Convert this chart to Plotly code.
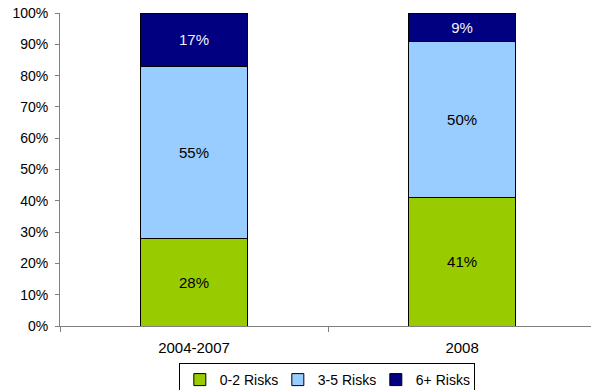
import plotly.graph_objects as go

# Share of people by number of health risks, per period
periods = ["2004-2007", "2008"]
risk_groups = ["0-2 Risks", "3-5 Risks", "6+ Risks"]
low_risk = [28, 41]
mid_risk = [55, 50]
high_risk = [17, 9]
y_ticks = [0, 10, 20, 30, 40, 50, 60, 70, 80, 90, 100]

series = [low_risk, mid_risk, high_risk]
fills = ["#99CC00", "#99CCFF", "#000080"]
label_colors = ["#000000", "#000000", "#F0F0FF"]

FONT = "Liberation Sans, Arial, sans-serif"

fig = go.Figure()
for name, vals, fill, lc in zip(risk_groups, series, fills, label_colors):
    fig.add_trace(go.Bar(
        x=periods,
        y=vals,
        name=name,
        marker=dict(color=fill, line=dict(color="#000000", width=1)),
        text=[f"{v}%" for v in vals],
        textposition="inside",
        insidetextanchor="middle",
        textfont=dict(family=FONT, size=15, color=lc),
        hoverinfo="skip",
    ))

fig.update_layout(
    width=591,
    height=390,
    barmode="stack",
    bargap=0.6,
    margin=dict(l=60, r=0, t=13, b=64, autoexpand=False),
    paper_bgcolor="white",
    plot_bgcolor="white",
    font=dict(family=FONT, size=14, color="#000000"),
    showlegend=True,
    legend=dict(
        orientation="h",
        traceorder="normal",
        xref="container",
        yref="container",
        x=0.553,
        xanchor="center",
        y=1 - 363 / 390,
        yanchor="top",
        bordercolor="#000000",
        borderwidth=1,
        bgcolor="white",
        font=dict(family=FONT, size=14),
        itemwidth=30,
        entrywidth=53,
        entrywidthmode="pixels",
    ),
    xaxis=dict(
        range=[-0.5, 1.481],
        showline=True,
        linecolor="#808080",
        linewidth=1,
        ticks="outside",
        tickson="boundaries",
        ticklen=5,
        tickcolor="#808080",
        ticklabelstandoff=8,
        showgrid=False,
        zeroline=False,
        tickfont=dict(family=FONT, size=15),
    ),
    yaxis=dict(
        range=[0, 100],
        tickvals=y_ticks,
        ticktext=[f"{v}%" for v in y_ticks],
        showline=True,
        linecolor="#808080",
        linewidth=1,
        ticks="outside",
        ticklen=4,
        tickcolor="#808080",
        ticklabelstandoff=4,
        showgrid=False,
        zeroline=False,
        tickfont=dict(family=FONT, size=14),
    ),
)

fig.write_html("out.html")
